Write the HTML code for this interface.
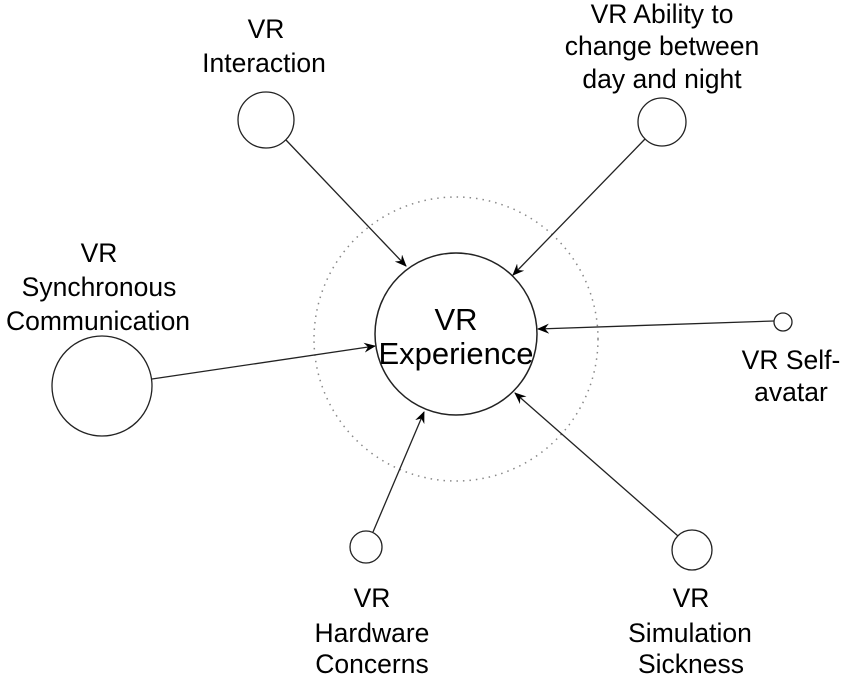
<!DOCTYPE html>
<html><head><style>
html,body{margin:0;padding:0;background:#fff;}
svg text{font-family:"Liberation Sans",Arial,sans-serif;fill:#000;text-anchor:middle;}
</style></head><body>
<svg width="850" height="678" viewBox="0 0 850 678" xmlns="http://www.w3.org/2000/svg">
<defs>
<marker id="a" markerWidth="12" markerHeight="10" refX="11" refY="5" orient="auto" markerUnits="userSpaceOnUse">
<path d="M0,0 L12,5 L0,10 L4,5 z" fill="#000"/>
</marker>
</defs>
<circle cx="456" cy="339" r="142" fill="none" stroke="#888" stroke-width="1.5" stroke-dasharray="1.5,5"/>
<circle cx="456" cy="334" r="81" fill="none" stroke="#222" stroke-width="1.5"/>
<text x="456" y="330" font-size="31">VR</text>
<text x="456" y="364" font-size="31">Experience</text>

<circle cx="266" cy="120" r="28" fill="none" stroke="#222" stroke-width="1.3"/>
<circle cx="662" cy="122" r="24" fill="none" stroke="#222" stroke-width="1.3"/>
<circle cx="102" cy="386" r="50" fill="none" stroke="#222" stroke-width="1.3"/>
<circle cx="783" cy="322" r="9" fill="none" stroke="#222" stroke-width="1.3"/>
<circle cx="366" cy="547" r="16" fill="none" stroke="#222" stroke-width="1.3"/>
<circle cx="692" cy="550" r="20" fill="none" stroke="#222" stroke-width="1.3"/>

<g stroke="#222" stroke-width="1.3" marker-end="url(#a)">
<line x1="286" y1="140" x2="406" y2="266"/>
<line x1="645" y1="139" x2="513" y2="275"/>
<line x1="152" y1="379" x2="375" y2="346"/>
<line x1="774" y1="321" x2="538" y2="329"/>
<line x1="373" y1="532" x2="424" y2="412"/>
<line x1="678" y1="536" x2="515" y2="393"/>
</g>

<g font-size="26.5">
<text x="266" y="38">VR</text>
<text x="264" y="72">Interaction</text>
<text x="662" y="23">VR Ability to</text>
<text x="662" y="55">change between</text>
<text x="662" y="88">day and night</text>
<text x="99" y="262">VR</text>
<text x="99" y="296">Synchronous</text>
<text x="98" y="330">Communication</text>
<text x="791" y="369">VR Self-</text>
<text x="791" y="401">avatar</text>
<text x="372" y="607">VR</text>
<text x="372" y="642">Hardware</text>
<text x="372" y="673">Concerns</text>
<text x="691" y="607">VR</text>
<text x="690" y="642">Simulation</text>
<text x="691" y="673">Sickness</text>
</g>
</svg>
</body></html>
